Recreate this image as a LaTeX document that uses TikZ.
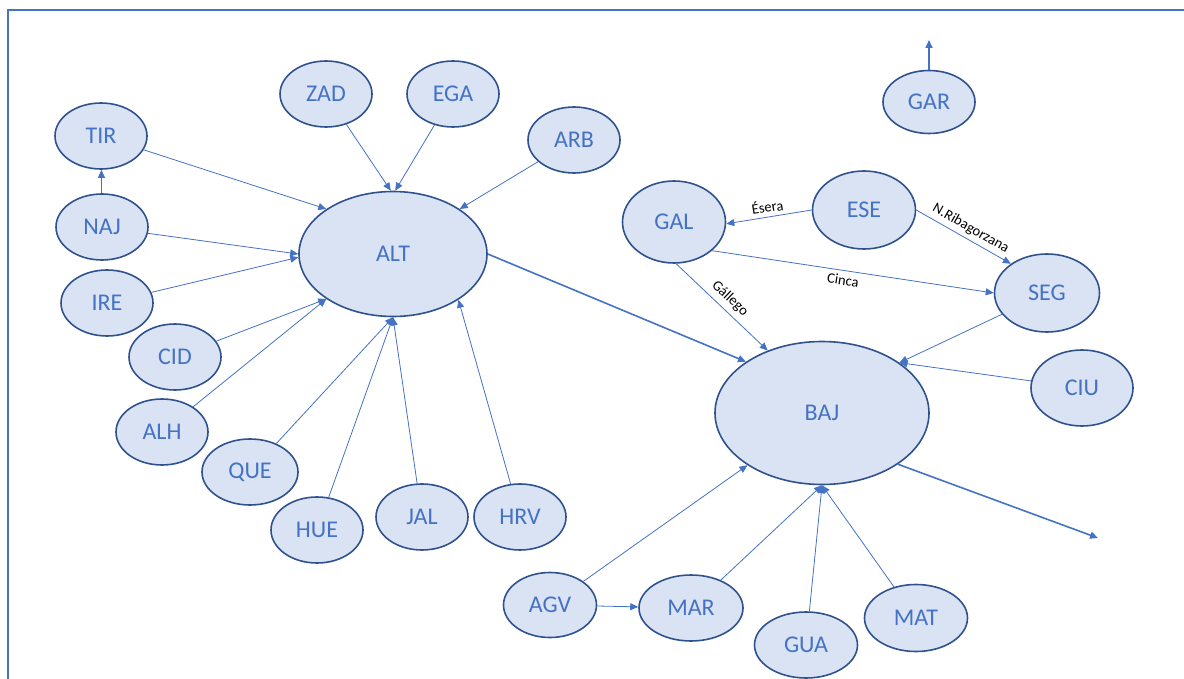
\documentclass[tikz,border=0pt]{standalone}
\usepackage{fontspec}
\setmainfont{Carlito}
\usetikzlibrary{shapes.geometric,arrows.meta}
\definecolor{ndfill}{HTML}{DAE3F3}
\definecolor{ndborder}{HTML}{2F528F}
\definecolor{ndtext}{HTML}{4472C4}
\definecolor{edgecol}{HTML}{4472C4}
\tikzset{
  nd/.style={ellipse, draw=ndborder, fill=ndfill, text=ndtext, line width=1.6pt,
    inner sep=0pt, font=\fontsize{24}{28}\selectfont},
  sm/.style={nd, minimum width=92pt, minimum height=66pt},
  md/.style={nd, minimum width=103pt, minimum height=79pt},
  wd/.style={nd, minimum width=103pt, minimum height=66pt},
  thin/.style={draw=edgecol, line width=0.8pt, -{Triangle[length=8pt,width=7pt]}},
  thick/.style={draw=edgecol, line width=1.6pt, -{Triangle[length=8pt,width=7pt]}},
  lbl/.style={font=\fontsize{14.5}{17}\selectfont, text=black, inner sep=4pt},
  frame/.style={draw=edgecol, line width=2pt}
}
\begin{document}
\begin{tikzpicture}[x=1pt,y=-1pt]
\useasboundingbox (0,0) rectangle (1184,679);
\draw[frame] (7.5,679) -- (7.5,10) -- (1184,10);

% nodes
\node[sm] (TIR) at (101,136) {TIR};
\node[sm] (NAJ) at (102,227) {NAJ};
\node[sm] (IRE) at (107,303) {IRE};
\node[sm] (CID) at (175,357) {CID};
\node[sm] (ALH) at (162,432) {ALH};
\node[sm, minimum width=96pt] (QUE) at (250,472) {QUE};
\node[sm] (HUE) at (317,530) {HUE};
\node[sm] (JAL) at (422,517) {JAL};
\node[sm] (HRV) at (520,517) {HRV};
\node[sm] (ZAD) at (326,94) {ZAD};
\node[sm] (EGA) at (453,94) {EGA};
\node[sm] (ARB) at (574,140) {ARB};
\node[sm, minimum height=63pt] (GAR) at (929,102) {GAR};
\node[nd, minimum width=188pt, minimum height=125pt] (ALT) at (393,254) {ALT};
\node[md, minimum height=82pt] (GAL) at (674,222) {GAL};
\node[md, minimum height=78pt] (ESE) at (864,210) {ESE};
\node[md, minimum width=105pt, minimum height=78pt] (SEG) at (1047,293) {SEG};
\node[md, minimum width=102pt, minimum height=76pt] (CIU) at (1082,388) {CIU};
\node[nd, minimum width=214pt, minimum height=143pt] (BAJ) at (822,413) {BAJ};
\node[sm, minimum width=93pt, minimum height=65pt] (AGV) at (550,605) {AGV};
\node[wd, minimum width=104pt] (MAR) at (691,608) {MAR};
\node[wd] (GUA) at (806,645) {GUA};
\node[wd, minimum height=67pt] (MAT) at (916,618) {MAT};

\coordinate (garout) at (929,40);
\coordinate (bajout) at (1098,538);

% edges into ALT
\draw[thin] (TIR) -- (ALT.146);
\draw[thin] (NAJ) -- (TIR);
\draw[thin] (NAJ) -- (ALT.180);
\draw[thin] (IRE) -- (ALT.182);
\draw[thin] (CID) -- (ALT.214);
\draw[thin] (ALH) -- (ALT.214);
\draw[thin] (QUE) -- (ALT.south);
\draw[thin] (HUE) -- (ALT.south);
\draw[thin] (JAL) -- (ALT.south);
\draw[thin] (HRV) -- (ALT.325);
\draw[thin] (ZAD) -- (ALT.92);
\draw[thin] (EGA) -- (ALT.88);
\draw[thin] (ARB) -- (ALT.34);

% upper right
\draw[thick] (GAR.north) -- (garout);
\draw[thin, {Triangle[length=8pt,width=7pt]}-] (GAL.358) -- node[lbl, above, sloped] {Ésera} (ESE.west);
\draw[thin] (ESE.east) -- node[lbl, above, sloped, pos=0.52] {N.Ribagorzana} (SEG.141);
\draw[thin] (GAL.323) -- node[lbl, below, sloped, pos=0.47] {Cinca} (SEG.west);
\draw[thin] (GAL.273) -- node[lbl, above, sloped, pos=0.5, inner sep=5pt] {Gállego} (BAJ.131);

% into BAJ
\draw[thick] (ALT.east) -- (BAJ.146);
\draw[thin] (SEG) -- (BAJ.33);
\draw[thin] (CIU) -- (BAJ.33);
\draw[thin] (AGV) -- (BAJ.215);
\draw[thin] (AGV) -- (MAR);
\draw[thin] (MAR) -- (BAJ.south);
\draw[thin] (GUA) -- (BAJ.south);
\draw[thin] (MAT) -- (BAJ.south);
\draw[thick] (BAJ.326) -- (bajout);
\end{tikzpicture}
\end{document}
